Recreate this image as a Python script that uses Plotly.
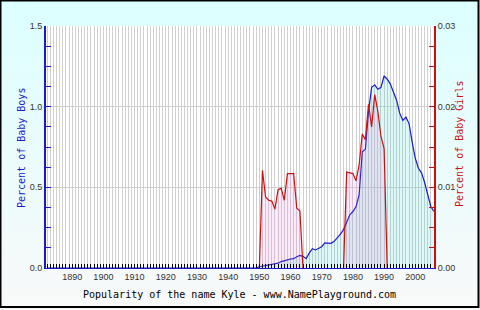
import base64
import plotly.graph_objects as go

# ---------------- data ----------------
years = list(range(1882, 2007))

boys = [
    # 1882-1949
    0.0, 0.0, 0.0, 0.0, 0.0, 0.0, 0.0, 0.0, 0.0, 0.0,
    0.0, 0.0, 0.0, 0.0, 0.0, 0.0, 0.0, 0.0, 0.0, 0.0,
    0.0, 0.0, 0.0, 0.0, 0.0, 0.0, 0.0, 0.0, 0.0, 0.0,
    0.0, 0.0, 0.0, 0.0, 0.0, 0.0, 0.0, 0.0, 0.0, 0.0,
    0.0, 0.0, 0.0, 0.0, 0.0, 0.0, 0.0, 0.0, 0.0, 0.0,
    0.0, 0.0, 0.0, 0.0, 0.0, 0.0, 0.0, 0.0, 0.0, 0.0,
    0.0, 0.0, 0.0, 0.0, 0.0, 0.0, 0.0, 0.0,
    # 1950-1959
    0.008, 0.012, 0.015, 0.018, 0.020, 0.024, 0.030, 0.040, 0.043, 0.050,
    # 1960-1969
    0.056, 0.058, 0.070, 0.078, 0.072, 0.058, 0.092, 0.120, 0.112, 0.122,
    # 1970-1979
    0.132, 0.156, 0.154, 0.153, 0.165, 0.185, 0.210, 0.238, 0.288, 0.330,
    # 1980-1989
    0.350, 0.380, 0.455, 0.720, 0.736, 0.970, 1.120, 1.135, 1.108, 1.120,
    # 1990-1999
    1.190, 1.170, 1.140, 1.095, 1.040, 0.960, 0.915, 0.935, 0.895, 0.780,
    # 2000-2006
    0.680, 0.618, 0.590, 0.530, 0.450, 0.380, 0.350,
]

N = None
girls = [
    # 1882-1949
    N, N, N, N, N, N, N, N, N, N,
    N, N, N, N, N, N, N, N, N, N,
    N, N, N, N, N, N, N, N, N, N,
    N, N, N, N, N, N, N, N, N, N,
    N, N, N, N, N, N, N, N, N, N,
    N, N, N, N, N, N, N, N, N, N,
    N, N, N, N, N, N, N, N,
    # 1950-1959
    0.0, 0.0121, 0.0088, 0.0084, 0.0083, 0.0073, 0.0097, 0.0099, 0.0084, 0.0117,
    # 1960-1969
    0.0117, 0.0117, 0.0074, 0.0071, 0.0, N, N, N, N, N,
    # 1970-1979
    N, N, N, N, N, N, N, 0.0, 0.0119, 0.0118,
    # 1980-1989
    0.0117, 0.0108, 0.0128, 0.0166, 0.0159, 0.0203, 0.0175, 0.0215, 0.0194, 0.0163,
    # 1990-1999
    0.0148, 0.0, N, N, N, N, N, N, N, N,
    # 2000-2006
    N, N, N, N, N, N, N,
]

left_ticks = [0.0, 0.5, 1.0, 1.5]
left_labels = ["0.0", "0.5", "1.0", "1.5"]
right_ticks = [0.0, 0.01, 0.02, 0.03]
right_labels = ["0.00", "0.01", "0.02", "0.03"]

title_text = "Popularity of the name Kyle - www.NamePlayground.com"
left_title = "Percent of Baby Boys"
right_title = "Percent of Baby Girls"

# ---------------- layout geometry ----------------
W, H = 480, 310
L, R, T, B = 46, 46, 26, 42
PW, PH = W - L - R, H - T - B


def px(x):
    return (x - L) / PW


def py(y):
    return (H - B - y) / PH


BLUE = "#1a1acc"
RED = "#cc1010"
GRID = "#cfcfcf"

fig = go.Figure()

fig.add_trace(go.Scatter(
    x=years, y=boys, mode="lines",
    line=dict(color=BLUE, width=1.2),
    fill="tozeroy", fillcolor="rgba(64,224,208,0.18)",
    yaxis="y", showlegend=False, hoverinfo="skip",
))
fig.add_trace(go.Scatter(
    x=years, y=girls, mode="lines",
    line=dict(color=RED, width=1.2),
    fill="tozeroy", fillcolor="rgba(235,110,215,0.15)",
    connectgaps=False,
    yaxis="y2", showlegend=False, hoverinfo="skip",
))

tick_font = dict(family="Liberation Sans, Arial, sans-serif", size=9, color="#333333")
mono = "DejaVu Sans Mono, monospace"

xt = [str(y) if y % 10 == 0 else "" for y in years]

svg = ('<svg xmlns="http://www.w3.org/2000/svg" width="480" height="310" '
       'preserveAspectRatio="none"><defs><linearGradient id="g" x1="0" y1="0" '
       'x2="0" y2="1"><stop offset="0" stop-color="#dcffff"/>'
       '<stop offset="1" stop-color="#f9f9f9"/></linearGradient></defs>'
       '<rect width="480" height="310" fill="url(#g)"/></svg>')
src = "data:image/svg+xml;base64," + base64.b64encode(svg.encode()).decode()

fig.update_layout(
    width=W, height=H,
    margin=dict(l=L, r=R, t=T, b=B, pad=0),
    paper_bgcolor="rgba(0,0,0,0)",
    plot_bgcolor="rgba(0,0,0,0)",
    images=[dict(source=src, xref="paper", yref="paper",
                 x=px(0), y=py(0), sizex=W / PW, sizey=H / PH,
                 xanchor="left", yanchor="top", sizing="stretch",
                 layer="below")],
    xaxis=dict(
        range=[1881.6, 2006], tickmode="array", tickvals=years, ticktext=xt,
        ticks="inside", ticklen=4, tickcolor="black", tickwidth=1,
        showgrid=True, gridcolor=GRID, gridwidth=1,
        showline=True, linecolor=BLUE, linewidth=1,
        tickfont=tick_font, zeroline=False, fixedrange=True,
    ),
    yaxis=dict(
        range=[0, 1.5], tickmode="array", tickvals=left_ticks, ticktext=left_labels,
        ticks="inside", ticklen=5, tickcolor=BLUE, tickwidth=1,
        minor=dict(dtick=0.125, tick0=0, ticks="inside", ticklen=5,
                   tickcolor=BLUE, showgrid=False),
        showgrid=True, gridcolor=GRID, gridwidth=1,
        showline=True, linecolor=BLUE, linewidth=2,
        tickfont=tick_font, zeroline=False, fixedrange=True,
    ),
    yaxis2=dict(
        range=[0, 0.03], overlaying="y", side="right",
        tickmode="array", tickvals=right_ticks, ticktext=right_labels,
        ticks="inside", ticklen=5, tickcolor=RED, tickwidth=1,
        minor=dict(dtick=0.0025, tick0=0, ticks="inside", ticklen=5,
                   tickcolor=RED, showgrid=False),
        showgrid=False, showline=True, linecolor=RED, linewidth=2,
        tickfont=tick_font, zeroline=False, fixedrange=True,
    ),
    annotations=[
        dict(text=left_title, x=px(21), y=py(148), xref="paper", yref="paper",
             textangle=-90, showarrow=False, xanchor="center", yanchor="middle",
             font=dict(family=mono, size=10, color=BLUE)),
        dict(text=right_title, x=px(459), y=py(144), xref="paper", yref="paper",
             textangle=-90, showarrow=False, xanchor="center", yanchor="middle",
             font=dict(family=mono, size=10, color=RED)),
        dict(text=title_text, x=px(239), y=py(294), xref="paper", yref="paper",
             showarrow=False, xanchor="center", yanchor="middle",
             font=dict(family=mono, size=10, color="black")),
    ],
    shapes=[
        dict(type="rect", xref="paper", yref="paper",
             x0=0, x1=1, y0=0, y1=1,
             line=dict(width=0), fillcolor="white", layer="below"),
        dict(type="rect", xref="paper", yref="paper",
             x0=px(0.5), x1=px(478.5), y0=py(0.5), y1=py(307),
             line=dict(color="black", width=2), fillcolor="rgba(0,0,0,0)",
             layer="above"),
    ],
)

fig.write_html("out.html", config={"displayModeBar": False})
